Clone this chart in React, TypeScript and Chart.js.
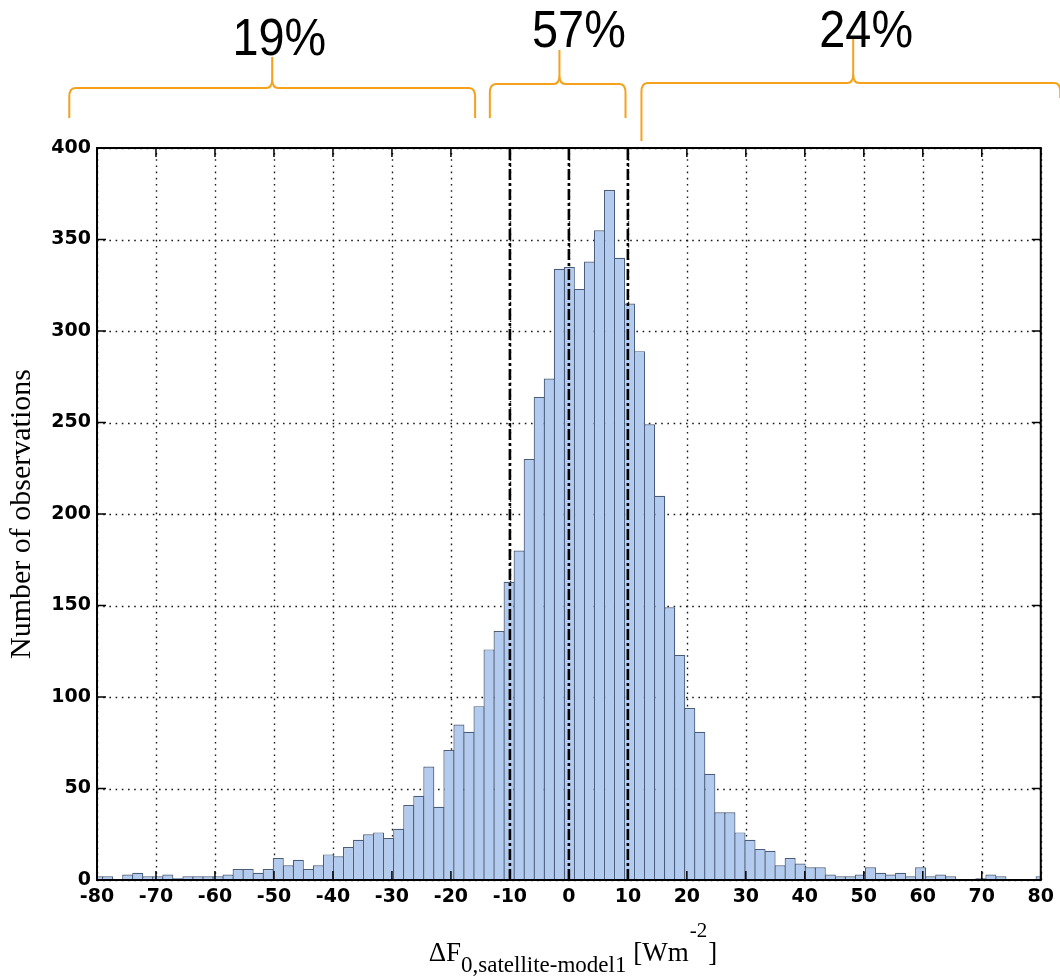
import { useEffect, useRef } from "react";
import { Chart, registerables } from "chart.js";

Chart.register(...registerables);

// Histogram bins (centre of first bin and bin width, in W m^-2)
const BIN_FIRST_CENTER = -79.9;
const BIN_WIDTH = 1.7016;

// Number of observations per bin (left to right)
const COUNTS = [
  2, 2, 0, 3, 4, 2, 2, 3, 1, 2,
  2, 2, 2, 3, 6, 6, 4, 6, 12, 8,
  11, 6, 8, 14, 13, 18, 22, 25, 26, 23,
  28, 41, 46, 62, 40, 71, 85, 81, 95, 126,
  136, 163, 180, 230, 264, 274, 334, 335, 323, 338,
  355, 377, 340, 315, 289, 249, 210, 149, 123, 94,
  81, 58, 37, 37, 26, 22, 17, 16, 8, 12,
  9, 7, 7, 3, 2, 2, 3, 7, 4, 3,
  4, 2, 7, 2, 3, 2, 0, 0, 1, 3,
  2, 0, 0, 0, 2,
];

const X_MIN = -80;
const X_MAX = 80;
const X_STEP = 10;
const Y_MIN = 0;
const Y_MAX = 400;
const Y_STEP = 50;

// dashed boundaries of the central class
const BOUNDARIES = [-10, 0, 10];

// percentage groups shown with braces above the plot
const GROUP_LABELS = ["19%", "57%", "24%"];
const GROUP_LEFT = [-84.7, -13.4, 12.3];
const GROUP_RIGHT = [-15.9, 9.6, 83.3];
const GROUP_TIP = [-50.3, -1.6, 48.2];
const GROUP_LABEL_X = [-49.1, 1.7, 50.4];

const X_TITLE_MAIN = "ΔF";
const X_TITLE_SUB = "0,satellite-model1";
const X_TITLE_UNIT = " [Wm";
const X_TITLE_SUP = "-2";
const X_TITLE_END = "]";
const Y_TITLE = "Number of observations";

// layout (pixels, relative to chart area top)
const BRACE_H = [-60, -64, -65];
const BRACE_END_L = [-30, -30, -7];
const BRACE_END_R = [-30, -30, -50];
const BRACE_TIP = [-91, -98, -110];
const LABEL_BASE = [-93, -101, -101];

const decorations = {
  id: "decorations",
  beforeDatasetsDraw(chart: any) {
    const { ctx, chartArea: a, scales } = chart;
    const xs = scales.x;
    const ys = scales.y;
    ctx.save();
    ctx.strokeStyle = "#1a1a1a";
    ctx.lineWidth = 1.4;
    ctx.setLineDash([1.6, 4.6]);
    xs.ticks.forEach((t: any) => {
      const px = Math.round(xs.getPixelForValue(t.value)) + 0.5;
      ctx.beginPath();
      ctx.moveTo(px, a.bottom);
      ctx.lineTo(px, a.top);
      ctx.stroke();
    });
    ys.ticks.forEach((t: any) => {
      const py = Math.round(ys.getPixelForValue(t.value)) + 0.5;
      ctx.beginPath();
      ctx.moveTo(a.left, py);
      ctx.lineTo(a.right, py);
      ctx.stroke();
    });
    ctx.restore();
  },
  afterDatasetsDraw(chart: any) {
    const { ctx, chartArea: a, scales } = chart;
    const xs = scales.x;
    const ys = scales.y;
    ctx.save();
    // dashed boundary lines
    ctx.strokeStyle = "#000";
    ctx.lineWidth = 2.6;
    ctx.setLineDash([11, 3, 3, 3]);
    BOUNDARIES.forEach((v) => {
      const px = xs.getPixelForValue(v);
      ctx.beginPath();
      ctx.moveTo(px, ys.getPixelForValue(Y_MIN));
      ctx.lineTo(px, ys.getPixelForValue(Y_MAX));
      ctx.stroke();
    });
    ctx.setLineDash([]);
    // frame
    ctx.lineWidth = 2;
    ctx.strokeRect(a.left, a.top, a.right - a.left, a.bottom - a.top);
    // inward ticks
    ctx.lineWidth = 1.5;
    const tl = 9;
    xs.ticks.forEach((t: any) => {
      const px = xs.getPixelForValue(t.value);
      ctx.beginPath();
      ctx.moveTo(px, a.bottom);
      ctx.lineTo(px, a.bottom - tl);
      ctx.moveTo(px, a.top);
      ctx.lineTo(px, a.top + tl);
      ctx.stroke();
    });
    ys.ticks.forEach((t: any) => {
      const py = ys.getPixelForValue(t.value);
      ctx.beginPath();
      ctx.moveTo(a.left, py);
      ctx.lineTo(a.left + tl, py);
      ctx.moveTo(a.right, py);
      ctx.lineTo(a.right - tl, py);
      ctx.stroke();
    });
    ctx.restore();
  },
  afterDraw(chart: any) {
    const { ctx, chartArea: a, scales } = chart;
    const xs = scales.x;
    ctx.save();
    // braces
    ctx.strokeStyle = "#F5A11C";
    ctx.lineWidth = 2;
    const r = 6;
    GROUP_LABELS.forEach((lab, i) => {
      const L = xs.getPixelForValue(GROUP_LEFT[i]);
      const R = xs.getPixelForValue(GROUP_RIGHT[i]);
      const T = xs.getPixelForValue(GROUP_TIP[i]);
      const h = a.top + BRACE_H[i];
      const eL = a.top + BRACE_END_L[i];
      const eR = a.top + BRACE_END_R[i];
      const tip = a.top + BRACE_TIP[i];
      ctx.beginPath();
      ctx.moveTo(L, eL);
      ctx.lineTo(L, h + r * 1.5);
      ctx.quadraticCurveTo(L, h, L + r, h);
      ctx.lineTo(T - r, h);
      ctx.quadraticCurveTo(T, h, T, h - r * 1.5);
      ctx.lineTo(T, tip);
      ctx.moveTo(T, h - r * 1.5);
      ctx.quadraticCurveTo(T, h, T + r, h);
      ctx.lineTo(R - r, h);
      ctx.quadraticCurveTo(R, h, R, h + r * 1.5);
      ctx.lineTo(R, eR);
      ctx.stroke();
      // label
      ctx.fillStyle = "#000";
      ctx.font = '52px "Liberation Sans", Arial, sans-serif';
      ctx.textAlign = "center";
      ctx.textBaseline = "alphabetic";
      ctx.save();
      ctx.translate(xs.getPixelForValue(GROUP_LABEL_X[i]), a.top + LABEL_BASE[i]);
      ctx.scale(0.9, 1);
      ctx.fillText(lab, 0, 0);
      ctx.restore();
    });

    // x axis title with subscript and superscript
    const serif = '"Liberation Serif", "Times New Roman", serif';
    const fMain = `27px ${serif}`;
    const fSub = `23px ${serif}`;
    const fSup = `21px ${serif}`;
    ctx.font = fMain;
    const w1 = ctx.measureText(X_TITLE_MAIN).width;
    const w3 = ctx.measureText(X_TITLE_UNIT).width;
    const w5 = ctx.measureText(X_TITLE_END).width;
    ctx.font = fSub;
    const w2 = ctx.measureText(X_TITLE_SUB).width;
    ctx.font = fSup;
    const w4 = ctx.measureText(X_TITLE_SUP).width + 2;
    const total = w1 + w2 + w3 + w4 + w5;
    const cx = (a.left + a.right) / 2 + 4;
    let x = cx - total / 2;
    const base = a.bottom + 81;
    ctx.fillStyle = "#000";
    ctx.textAlign = "left";
    ctx.textBaseline = "alphabetic";
    ctx.font = fMain;
    ctx.fillText(X_TITLE_MAIN, x, base);
    x += w1;
    ctx.font = fSub;
    ctx.fillText(X_TITLE_SUB, x, base + 11);
    x += w2;
    ctx.font = fMain;
    ctx.fillText(X_TITLE_UNIT, x, base);
    x += w3;
    ctx.font = fSup;
    ctx.fillText(X_TITLE_SUP, x + 1, base - 24);
    x += w4;
    ctx.font = fMain;
    ctx.fillText(X_TITLE_END, x, base);
    ctx.restore();
  },
};

export default function App() {
  const ref = useRef<HTMLCanvasElement | null>(null);

  useEffect(() => {
    if (!ref.current) return;
    const tickFont = { family: '"DejaVu Sans", Verdana, sans-serif', size: 19, weight: "bold" as const };
    const chart = new Chart(ref.current, {
      type: "bar",
      data: {
        datasets: [
          {
            data: COUNTS.map((c, i) => ({ x: BIN_FIRST_CENTER + i * BIN_WIDTH, y: c })),
            backgroundColor: "#B3CBEF",
            borderColor: "#4A5E7C",
            borderWidth: 1.2,
            barPercentage: 1.1,
            categoryPercentage: 1,
            clip: 0,
          } as any,
        ],
      },
      options: {
        animation: false,
        responsive: false,
        devicePixelRatio: 1,
        layout: { padding: { top: 148, right: 17, left: 0, bottom: 0 } },
        plugins: {
          legend: { display: false },
          tooltip: { enabled: false },
        },
        scales: {
          x: {
            type: "linear",
            min: X_MIN,
            max: X_MAX,
            offset: false,
            grid: { display: false, drawTicks: false },
            border: { display: false },
            ticks: {
              stepSize: X_STEP,
              font: tickFont,
              color: "#000",
              padding: 6,
              maxRotation: 0,
              autoSkip: false,
              callback: (v: any) => String(v),
            },
            afterFit: (s: any) => {
              s.height = 96;
            },
          },
          y: {
            min: Y_MIN,
            max: Y_MAX,
            grid: { display: false, drawTicks: false },
            border: { display: false },
            ticks: {
              stepSize: Y_STEP,
              font: tickFont,
              color: "#000",
              padding: 6,
              autoSkip: false,
            },
            title: {
              display: true,
              text: Y_TITLE,
              color: "#000",
              font: { family: '"Liberation Serif", "Times New Roman", serif', size: 30 },
              padding: { top: 4, bottom: 0 },
            },
            afterFit: (s: any) => {
              s.width = 97;
            },
          },
        },
      } as any,
      plugins: [decorations],
    });
    return () => chart.destroy();
  }, []);

  return (
    <div style={{ position: "fixed", left: 0, top: 0, width: 1060, height: 976, background: "#fff" }}>
      <canvas ref={ref} width={1060} height={976} style={{ display: "block", width: 1060, height: 976 }} />
    </div>
  );
}
